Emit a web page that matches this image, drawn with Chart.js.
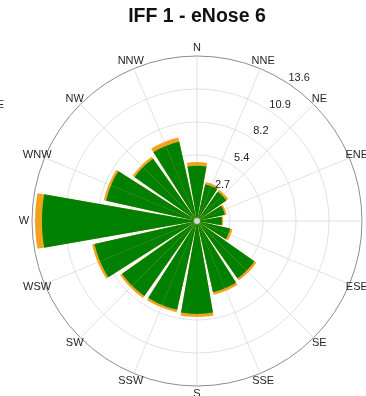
<!DOCTYPE html>
<html>
<head>
<meta charset="utf-8">
<title>IFF 1 - eNose 6</title>
<script src="https://cdn.jsdelivr.net/npm/chart.js@4.4.1/dist/chart.umd.min.js"></script>
<style>
    html, body { margin: 0; padding: 0; background: #fff; overflow: hidden; }
    #wrap { width: 366px; height: 396px; overflow: hidden; }
    canvas { display: block; }
</style>
</head>
<body>
<div id="wrap"><canvas id="roseChart" width="394" height="396"></canvas></div>
<script>
'use strict';

// Hướng gió (16 hướng, theo chiều kim đồng hồ từ N)
var directions = ['N', 'NNE', 'NE', 'ENE', 'E', 'ESE', 'SE', 'SSE',
                  'S', 'SSW', 'SW', 'WSW', 'W', 'WNW', 'NW', 'NNW'];

// Phần xanh (lớp thấp) và phần cam (lớp cao, cộng dồn lên trên)
var lowClass  = [4.55, 3.10, 2.95, 2.35, 2.05, 2.80, 5.78, 6.00,
                 7.66, 7.50, 7.55, 8.65, 12.78, 7.67, 6.28, 6.70];
var highClass = [0.31, 0.20, 0.20, 0.15, 0.10, 0.20, 0.20, 0.22,
                 0.25, 0.20, 0.20, 0.21, 0.57, 0.20, 0.20, 0.35];

// Nhãn trục bán kính
var tickValues = [2.72, 5.44, 8.16, 10.88, 13.6];
var tickLabels = ['2.7', '5.4', '8.2', '10.9', '13.6'];
var rMax = 13.6;

// Mỗi hướng được tách thành: nửa phải cột k, khe hở, nửa trái cột k+1
// để nhãn (theo chỉ số) nằm đúng giữa cột
var GAP = 2.7;
var HALF = (360 / directions.length - GAP) / 2;

function expand(values) {
    var out = [];
    for (var k = 0; k < values.length; k++) {
        out.push(values[k], 0, values[(k + 1) % values.length]);
    }
    return out;
}

var totals = lowClass.map(function (v, i) { return v + highClass[i]; });
var labels = [];
directions.forEach(function (d) { labels.push(d, '', ''); });

function sliceAngle(c) {
    return c.dataIndex % 3 === 1 ? GAP : HALF;
}

var gridColor = 'rgba(210,210,210,0.65)';
var font = '"Liberation Sans", Arial, sans-serif';

// Vẽ nhãn hướng, nhãn bán kính
var roseLabels = {
    id: 'roseLabels',
    afterDraw: function (chart) {
        var ctx = chart.ctx;
        var r = chart.scales.r;
        var R = r.drawingArea;
        ctx.save();
        ctx.fillStyle = '#262626';
        ctx.font = '11px ' + font;
        ctx.textAlign = 'center';
        ctx.textBaseline = 'middle';
        directions.forEach(function (d, k) {
            var p = r.getPointPosition(k * 3, R + 8);
            ctx.fillText(d, p.x, p.y);
        });

        var a = 35.5 * Math.PI / 180;
        tickValues.forEach(function (v, i) {
            var dist = r.getDistanceFromCenterForValue(v) + 11;
            ctx.fillText(tickLabels[i], r.xCenter + dist * Math.sin(a), r.yCenter - dist * Math.cos(a));
        });

        // chấm nhỏ ở tâm
        ctx.beginPath();
        ctx.arc(r.xCenter, r.yCenter, 3, 0, 2 * Math.PI);
        ctx.fillStyle = 'rgba(225,225,225,0.9)';
        ctx.fill();

        // nhãn bị cắt của biểu đồ bên cạnh
        ctx.fillStyle = '#262626';
        ctx.textAlign = 'right';
        ctx.fillText('NE', 4, 105);
        ctx.restore();
    }
};

var ctx = document.getElementById('roseChart').getContext('2d');

var roseChart = new Chart(ctx, {
    type: 'polarArea',
    data: {
        labels: labels,
        datasets: [{
            label: 'low',
            data: expand(lowClass),
            backgroundColor: 'rgb(0,128,0)',
            borderWidth: 0,
            angle: sliceAngle
        }, {
            label: 'high',
            data: expand(totals),
            backgroundColor: 'rgb(242,163,28)',
            borderWidth: 0,
            angle: sliceAngle
        }]
    },
    plugins: [roseLabels],
    options: {
        responsive: false,
        animation: false,
        layout: { padding: { left: 32, right: 32, top: 0, bottom: 10 } },
        plugins: {
            legend: { display: false },
            tooltip: { enabled: false },
            title: {
                display: true,
                text: 'IFF 1 - eNose 6',
                color: '#111',
                font: { family: font, size: 19.5, weight: 'bold' },
                padding: { top: 5, bottom: 27.6 }
            }
        },
        scales: {
            r: {
                min: 0,
                max: rMax,
                startAngle: 0,
                ticks: { display: false, stepSize: 2.72, z: 1 },
                grid: {
                    circular: true,
                    lineWidth: 1,
                    color: function (c) {
                        return c.index === tickValues.length ? '#8c8c8c' : gridColor;
                    }
                },
                angleLines: {
                    display: true,
                    color: gridColor,
                    lineWidth: function (c) { return c.index % 3 === 0 ? 1 : 0; }
                },
                pointLabels: { display: false }
            }
        }
    }
});
</script>
</body>
</html>
